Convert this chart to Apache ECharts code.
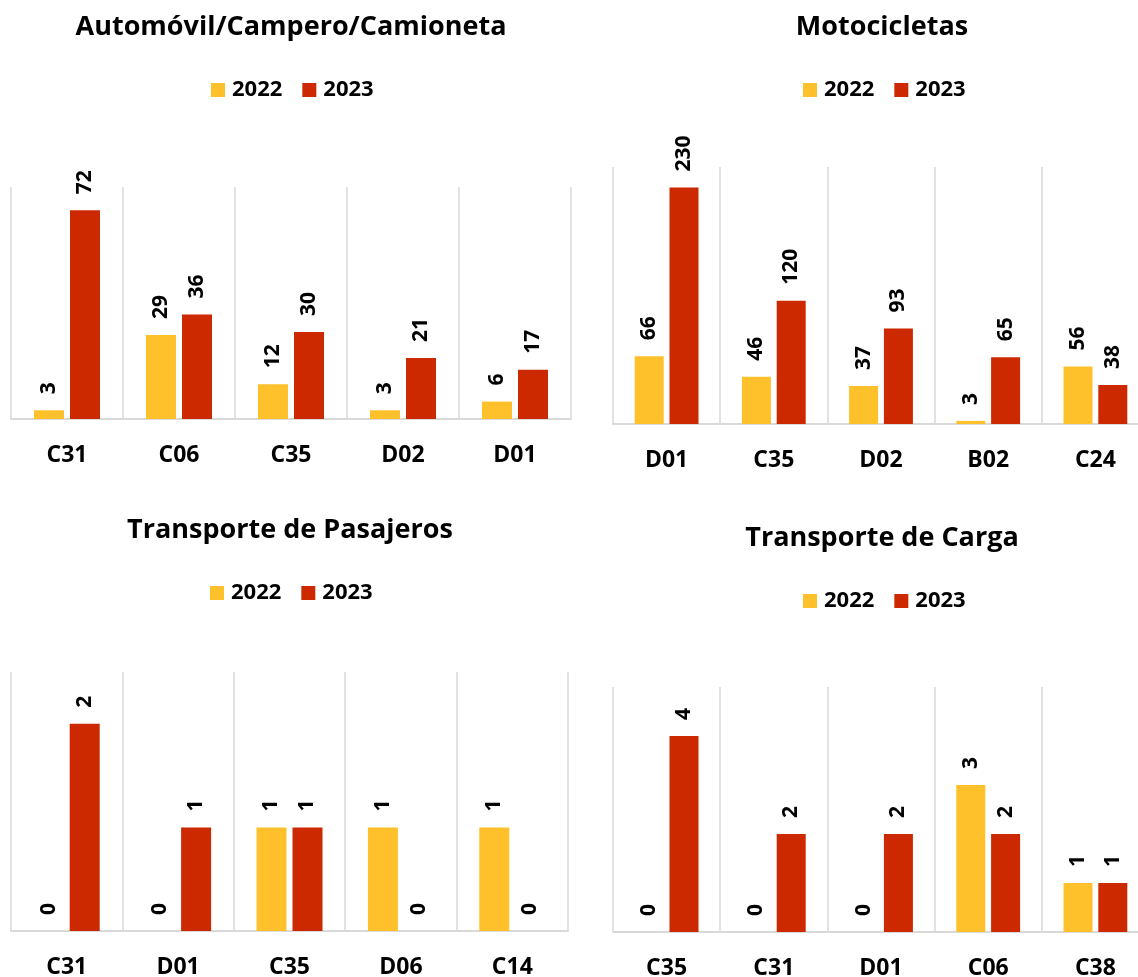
<!DOCTYPE html>
<html>
<head>
<meta charset="utf-8">
<script src="https://cdn.jsdelivr.net/npm/echarts@6/dist/echarts.min.js"></script>
<style>
html,body{margin:0;padding:0;background:#fff;}
#chart{width:1138px;height:977px;}
</style>
</head>
<body>
<div id="chart"></div>
<script>
// ---- Data ----
const seriesNames = ['2022', '2023'];

const titles = ['Automóvil/Campero/Camioneta', 'Motocicletas', 'Transporte de Pasajeros', 'Transporte de Carga'];

const cats1 = ['C31', 'C06', 'C35', 'D02', 'D01'];
const auto2022 = [3, 29, 12, 3, 6];
const auto2023 = [72, 36, 30, 21, 17];

const cats2 = ['D01', 'C35', 'D02', 'B02', 'C24'];
const moto2022 = [66, 46, 37, 3, 56];
const moto2023 = [230, 120, 93, 65, 38];

const cats3 = ['C31', 'D01', 'C35', 'D06', 'C14'];
const pasaj2022 = [0, 0, 1, 1, 1];
const pasaj2023 = [2, 1, 1, 0, 0];

const cats4 = ['C35', 'C31', 'D01', 'C06', 'C38'];
const carga2022 = [0, 0, 0, 3, 1];
const carga2023 = [4, 2, 2, 2, 1];

const yMax = [80, 250, 2.5, 5];

// ---- Layout / style ----
const FONT = 'Open Sans';
const COLORS = ['#FFC12B', '#CC2900'];
const panels = [
  { cats: cats1, a: auto2022, b: auto2023, grid: { left: 11, top: 187, width: 560, height: 232 }, barW: 30, titleX: 291, titleY: 14, legX: 211, legY: 79 },
  { cats: cats2, a: moto2022, b: moto2023, grid: { left: 613, top: 167, width: 536, height: 257 }, barW: 29, titleX: 882, titleY: 14, legX: 803, legY: 79 },
  { cats: cats3, a: pasaj2022, b: pasaj2023, grid: { left: 11, top: 672, width: 557, height: 259 }, barW: 30, titleX: 290, titleY: 517, legX: 210, legY: 582 },
  { cats: cats4, a: carga2022, b: carga2023, grid: { left: 613, top: 687, width: 536, height: 245 }, barW: 29, titleX: 882, titleY: 525, legX: 803, legY: 590 }
];

const option = {
  backgroundColor: '#ffffff',
  animation: false,
  color: COLORS,
  textStyle: { fontFamily: FONT },
  title: [], legend: [], grid: [], xAxis: [], yAxis: [], series: []
};

panels.forEach((p, i) => {
  option.title.push({
    text: titles[i], left: p.titleX, top: p.titleY, textAlign: 'center', padding: 0,
    textStyle: { fontFamily: FONT, fontWeight: 'bold', fontSize: 27, color: '#000' }
  });
  option.legend.push({
    data: seriesNames, left: p.legX, top: p.legY, padding: 0,
    itemWidth: 14, itemHeight: 14, itemGap: 20, icon: 'rect',
    textStyle: { fontFamily: FONT, fontWeight: 'bold', fontSize: 22, color: '#000', padding: [0, 0, 0, 2] },
    selectedMode: false
  });
  option.grid.push(Object.assign({ containLabel: false, outerBoundsMode: 'none' }, p.grid));
  option.xAxis.push({
    type: 'category', gridIndex: i, data: p.cats,
    axisLine: { show: true, lineStyle: { color: '#D9D9D9', width: 2 } },
    axisTick: { show: false },
    splitLine: { show: true, lineStyle: { color: '#D9D9D9', width: 1.5 } },
    axisLabel: { margin: 25, fontFamily: FONT, fontWeight: 'bold', fontSize: 23, color: '#000' }
  });
  option.yAxis.push({
    type: 'value', gridIndex: i, min: 0, max: yMax[i], show: false, splitLine: { show: false }
  });
  [p.a, p.b].forEach((vals, k) => {
    option.series.push({
      name: seriesNames[k], type: 'bar', xAxisIndex: i, yAxisIndex: i,
      data: vals, barWidth: p.barW, barGap: '20%',
      itemStyle: { color: COLORS[k] },
      label: {
        show: true, position: 'top', rotate: 90, align: 'left', verticalAlign: 'middle',
        distance: 16, fontFamily: FONT, fontWeight: 'bold', fontSize: 21, color: '#000'
      }
    });
  });
});

const chart = echarts.init(document.getElementById('chart'), null, { renderer: 'canvas' });
chart.setOption(option);
</script>
</body>
</html>
